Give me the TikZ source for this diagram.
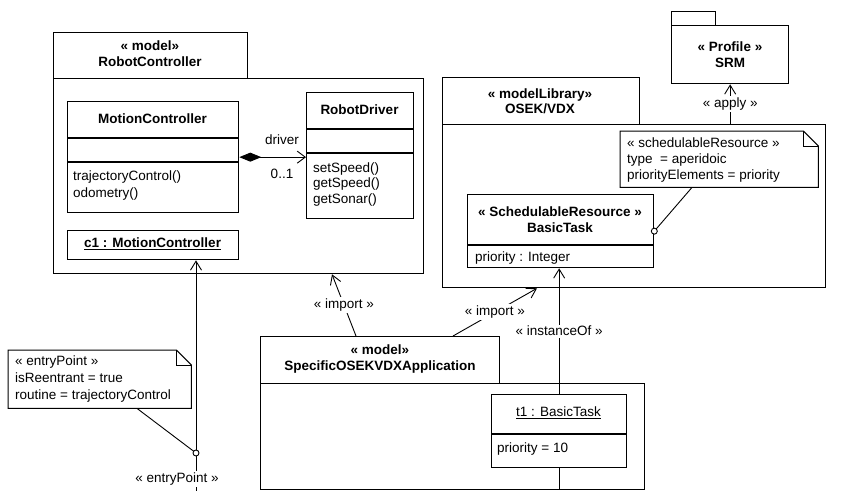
\documentclass[tikz,border=0pt]{standalone}
\usepackage{fontspec}
\setmainfont{Liberation Sans}
\usetikzlibrary{arrows.meta,calc}
\begin{document}
\begin{tikzpicture}[x=1pt,y=-1pt,
  every node/.style={font=\fontsize{13.5}{16}\selectfont},
  box/.style={draw, line width=1.3pt, inner sep=0pt, anchor=north west},
  txt/.style={inner sep=0pt, align=center},
  bold/.style={inner sep=0pt, align=center, font=\fontsize{13.5}{16}\selectfont\bfseries},
  ltxt/.style={inner sep=0pt, align=left, anchor=west},
  conn/.style={line width=0.9pt},
  opena/.style={conn, -{Straight Barb[length=9pt,width=11pt]}},
  lbl/.style={fill=white, inner sep=1.5pt},
  divider/.style={line width=1.2pt},
]
\useasboundingbox (0,0) rectangle (842,490);

% ---------- RobotController package ----------
\node[box, minimum width=194, minimum height=46] (rcTab) at (53,32) {};
\node[box, minimum width=370, minimum height=195] (rcBody) at (53,78) {};
\node[bold] (rcTabT) at (150,53.5) {« model»\\RobotController};

% MotionController class
\node[box, minimum width=171, minimum height=111] (mc) at (67,101) {};
\draw[divider] ($(mc.north west)+(0,37)$) -- ($(mc.north east)+(0,37)$);
\draw[divider] ($(mc.north west)+(0,61)$) -- ($(mc.north east)+(0,61)$);
\node[bold] (mcName) at (152.5,119) {MotionController};
\node[ltxt, font=\fontsize{13.5}{17}\selectfont] (mcOps) at (73,185.5) {trajectoryControl()\\odometry()};

% c1 instance
\node[box, minimum width=171, minimum height=29] (c1) at (67,230) {};
\node[bold] (c1T) at (152.5,244) {\underline{c1 : MotionController}};

% RobotDriver class
\node[box, minimum width=107, minimum height=126] (rd) at (306,92) {};
\draw[divider] ($(rd.north west)+(0,37)$) -- ($(rd.north east)+(0,37)$);
\draw[divider] ($(rd.north west)+(0,61)$) -- ($(rd.north east)+(0,61)$);
\node[bold] (rdName) at (359.5,110) {RobotDriver};
\node[ltxt, font=\fontsize{13.5}{15.5}\selectfont] (rdOps) at (313,184.5) {setSpeed()\\getSpeed()\\getSonar()};

% composition
\draw[conn, {Diamond[length=22pt,width=9pt]}-{Straight Barb[length=8pt,width=12pt]}] (mc.east) -- (mc.east -| rd.west);
\node[txt] (drv) at (282,140) {driver};
\node[txt] (mult) at (282,174) {0..1};

% ---------- OSEK/VDX package ----------
\node[box, minimum width=197, minimum height=47] (osTab) at (442,77) {};
\node[box, minimum width=383, minimum height=163] (osBody) at (442,124) {};
\node[bold, font=\fontsize{13.5}{14.5}\selectfont\bfseries] (osTabT) at (540,101) {« modelLibrary»\\OSEK/VDX};

% BasicTask class
\node[box, minimum width=186, minimum height=73] (bt) at (467,194) {};
\draw[divider] ($(bt.north west)+(0,51)$) -- ($(bt.north east)+(0,51)$);
\node[bold] (btName) at (560,220) {« SchedulableResource »\\BasicTask};
\node[ltxt] (btAttr) at (475,258) {priority : Integer};

% schedulableResource note
\node[inner sep=0pt, minimum width=198, minimum height=56, anchor=north west] (n1) at (620,131) {};
\draw[line width=1pt, fill=white] (n1.north west) -- ($(n1.north east)+(-15,0)$) -- ($(n1.north east)+(0,15)$) -- (n1.south east) -- (n1.south west) -- cycle;
\draw[line width=1pt] ($(n1.north east)+(-15,0)$) -- ($(n1.north east)+(-15,15)$) -- ($(n1.north east)+(0,15)$);
\node[ltxt] (n1T) at (627,160) {« schedulableResource »\\type \ = aperidoic\\priorityElements = priority};
\coordinate (n1c) at ($(n1.south west)+(72,0)$);
\draw[conn] (n1c) -- (bt.east);
\draw[line width=0.9pt, fill=white] (bt.east) circle[radius=3pt];

% ---------- SRM profile ----------
\node[box, minimum width=44, minimum height=14] (srmTab) at (671,11) {};
\node[box, minimum width=117, minimum height=58] (srm) at (671,25) {};
\node[bold] (srmT) at (730,55) {« Profile »\\SRM};

% apply
\draw[opena] (srm.south |- osBody.north) -- node[lbl] (applyL) {« apply »} (srm.south);

% ---------- SpecificOSEKVDXApplication package ----------
\node[box, minimum width=239, minimum height=47] (spTab) at (260,336) {};
\node[box, minimum width=384, minimum height=106] (spBody) at (260,383) {};
\node[bold] (spTabT) at (380,359) {« model»\\SpecificOSEKVDXApplication};

% t1 instance
\node[box, minimum width=135, minimum height=73] (t1) at (491,394) {};
\draw[divider] ($(t1.north west)+(0,40)$) -- ($(t1.north east)+(0,40)$);
\node[txt] (t1Name) at (558.5,413) {\underline{t1 : BasicTask}};
\node[ltxt] (t1Attr) at (497,449) {priority = 10};
\draw[conn] (t1.south) -- (t1.south |- spBody.south);

% instanceOf
\draw[opena] (t1.north) -- node[lbl] (instL) {« instanceOf »} (t1.north |- bt.south);

% imports
\coordinate (i1s) at ($(spTab.north west)+(96,0)$);
\coordinate (i1e) at ($(rcBody.south west)+(279,0)$);
\draw[opena] (i1s) -- node[lbl] (imp1L) {« import »} (i1e);
\coordinate (i2s) at ($(spTab.north west)+(193,0)$);
\coordinate (i2e) at ($(osBody.south west)+(95,0)$);
\draw[opena] (i2s) -- node[lbl] (imp2L) {« import »} (i2e);

% ---------- entryPoint ----------
\coordinate (epc) at (196,453);
\coordinate (epEnd) at (196,492);
\draw[opena] (epc) -- (c1.south -| epc);
\draw[conn] (epc) -- (epEnd);
\node[lbl] (epL) at (177,479) {« entryPoint »};

\node[inner sep=0pt, minimum width=183, minimum height=58, anchor=north west] (n2) at (8,350) {};
\draw[line width=1pt, fill=white] (n2.north west) -- ($(n2.north east)+(-15,0)$) -- ($(n2.north east)+(0,15)$) -- (n2.south east) -- (n2.south west) -- cycle;
\draw[line width=1pt] ($(n2.north east)+(-15,0)$) -- ($(n2.north east)+(-15,15)$) -- ($(n2.north east)+(0,15)$);
\node[ltxt, font=\fontsize{13.5}{17}\selectfont] (n2T) at (15,379) {« entryPoint »\\isReentrant = true\\routine = trajectoryControl};
\coordinate (n2c) at ($(n2.south west)+(129,0)$);
\draw[conn] (n2c) -- (epc);
\draw[line width=0.9pt, fill=white] (epc) circle[radius=3pt];

\end{tikzpicture}
\end{document}
